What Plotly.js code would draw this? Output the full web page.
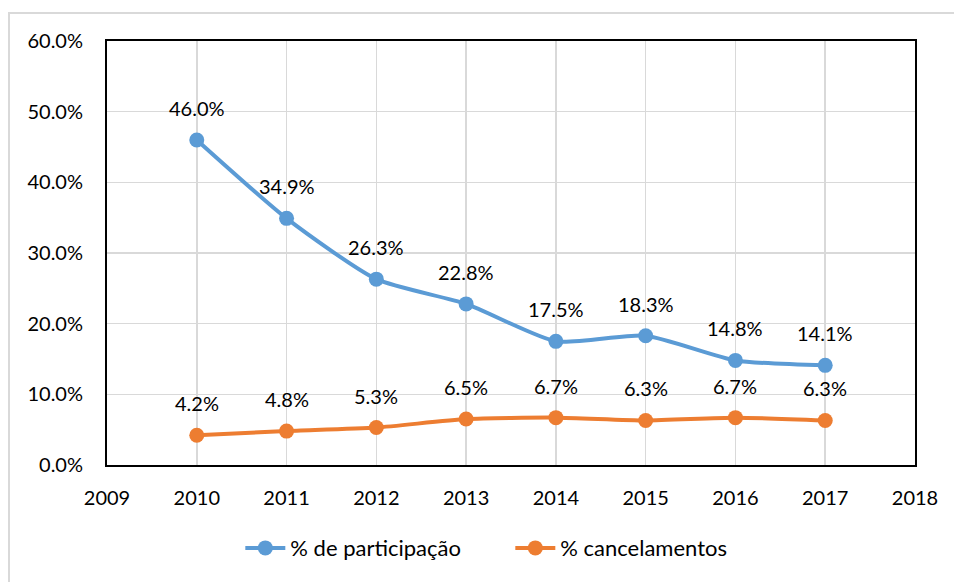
<!DOCTYPE html>
<html>
<head>
<meta charset="utf-8">
<script src="https://cdn.plot.ly/plotly-3.0.1.min.js"></script>
<style>
  html, body { margin:0; padding:0; background:#fff; overflow:hidden; }
  #frame { position:absolute; left:8px; top:12px; width:1000px; height:1000px; border-left:2px solid #d9d9d9; border-top:2px solid #d9d9d9; box-sizing:border-box; }
  #chart { position:absolute; left:0; top:0; width:954px; height:582px; }
</style>
</head>
<body>
<div id="frame"></div>
<div id="chart"></div>
<script>
const years = [2010, 2011, 2012, 2013, 2014, 2015, 2016, 2017];
const participacao = [46.0, 34.9, 26.3, 22.8, 17.5, 18.3, 14.8, 14.1];
const cancelamentos = [4.2, 4.8, 5.3, 6.5, 6.7, 6.3, 6.7, 6.3];
const yTicks = [0, 10, 20, 30, 40, 50, 60];
const xTicks = [2009, 2010, 2011, 2012, 2013, 2014, 2015, 2016, 2017, 2018];

const FONT = 'Lato, "Open Sans", sans-serif';
const BLUE = '#5B9BD5';
const ORANGE = '#ED7D31';

function lineTrace(name, ys, color) {
  return {
    x: years, y: ys, name: name, type: 'scatter', mode: 'lines+markers',
    line: {color: color, width: 4, shape: 'spline', smoothing: 0.6},
    marker: {color: color, size: 15},
    hoverinfo: 'skip'
  };
}

function labels(ys) {
  return years.map((x, i) => ({
    x: x, y: ys[i], xref: 'x', yref: 'y',
    text: ys[i].toFixed(1) + '%', showarrow: false,
    yshift: 32, font: {family: FONT, size: 20, color: '#000'}
  }));
}

const data = [
  lineTrace('% de participação', participacao, BLUE),
  lineTrace('% cancelamentos', cancelamentos, ORANGE)
];

const layout = {
  width: 954, height: 582,
  margin: {l: 107, r: 39, t: 41, b: 117},
  paper_bgcolor: 'rgba(0,0,0,0)',
  plot_bgcolor: '#fff',
  font: {family: FONT, size: 20, color: '#000'},
  showlegend: true,
  legend: {orientation: 'h', x: 0.165, xanchor: 'left', y: -0.196, yanchor: 'middle',
           font: {family: FONT, size: 22, color: '#000'}, itemwidth: 40,
           entrywidth: 215, entrywidthmode: 'pixels'},
  xaxis: {
    range: [2009, 2018], tickvals: xTicks, ticktext: xTicks.map(String),
    showgrid: true, gridcolor: '#d9d9d9', gridwidth: 1.5,
    showline: true, linecolor: '#000', linewidth: 2, mirror: true,
    ticks: 'outside', ticklen: 14, tickcolor: 'rgba(0,0,0,0)',
    zeroline: false, fixedrange: true
  },
  yaxis: {
    range: [0, 60], tickvals: yTicks, ticktext: yTicks.map(v => v.toFixed(1) + '%'),
    showgrid: true, gridcolor: '#d9d9d9', gridwidth: 1.5,
    showline: true, linecolor: '#000', linewidth: 2, mirror: true,
    ticks: 'outside', ticklen: 18, tickcolor: 'rgba(0,0,0,0)',
    zeroline: false, fixedrange: true
  },
  annotations: labels(participacao).concat(labels(cancelamentos))
};

Plotly.newPlot('chart', data, layout, {displayModeBar: false, staticPlot: true});
</script>
</body>
</html>
